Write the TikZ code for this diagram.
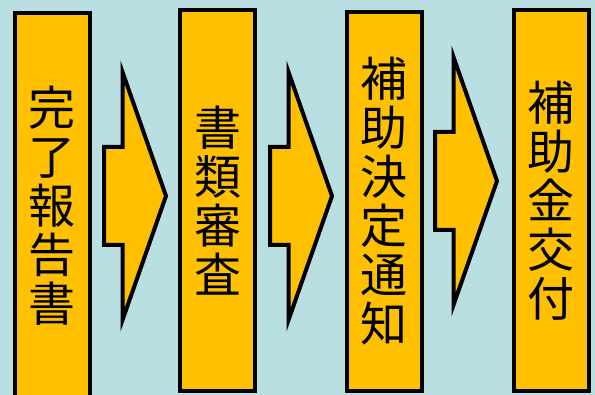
\documentclass[tikz,border=0pt]{standalone}
\usepackage{fontspec}
\newfontfamily\jpfont{Noto Sans CJK JP}
\definecolor{paleblue}{HTML}{BADFE3}
\definecolor{amber}{HTML}{FFC000}

\tikzset{
	stepbox/.style={draw=black, fill=amber, line width=4pt, inner sep=0pt,
		minimum width=75pt, align=center,
		font={\jpfont\fontsize{47}{49}\selectfont}},
	blockarrow/.style={draw=black, fill=amber, line width=4pt}
}

\begin{document}
\begin{tikzpicture}[x=1pt,y=-1pt]

\def\width{595}
\def\height{395}
\def\shafth{49}
\def\shaftl{18.5}
\def\headh{124}
\def\tipl{62}

\fill [paleblue] (0,0) rectangle (\width,\height);
\path [use as bounding box] (0,0) rectangle (\width,\height);

% Boxes
\node [stepbox, minimum height=386pt] (report) at (52,206) {完\\了\\報\\告\\書};
\node [stepbox, minimum height=381pt] (review) at (217.5,200.5) {書\\類\\審\\査};
\node [stepbox, minimum height=379pt] (notice) at (384,201.5) {補\\助\\決\\定\\通\\知};
\node [stepbox, minimum height=381pt] (payment) at (551,200.5) {補\\助\\金\\交\\付};

% Arrows
\foreach \ax/\ay in {104/196, 270/196, 435/181}
	\draw [blockarrow] (\ax,\ay)
		+(0,-\shafth)
		-- +(\shaftl,-\shafth)
		-- +(\shaftl,-\headh)
		-- +(\tipl,0)
		-- +(\shaftl,\headh)
		-- +(\shaftl,\shafth)
		-- +(0,\shafth)
		-- cycle;

\end{tikzpicture}
\end{document}
